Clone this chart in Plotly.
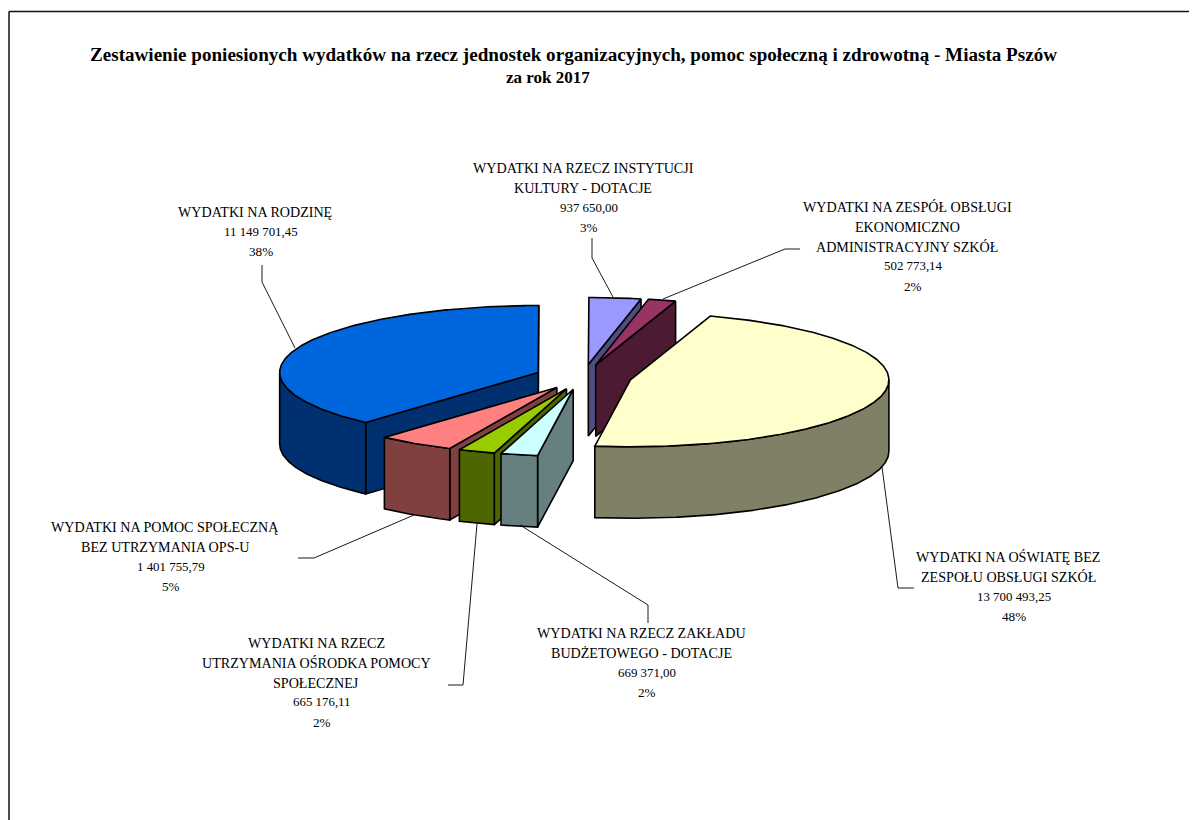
import numpy as np
import plotly.graph_objects as go

# ---- data ----
VALUES = [13700493.25, 669371.00, 665176.11, 1401755.79, 11149701.45, 937650.00, 502773.14]
VALUE_TEXT = ["13 700 493,25", "669 371,00", "665 176,11", "1 401 755,79",
              "11 149 701,45", "937 650,00", "502 773,14"]
PERCENT_TEXT = ["48%", "2%", "2%", "5%", "38%", "3%", "2%"]
NAMES = [
    ["WYDATKI NA OŚWIATĘ BEZ", "ZESPOŁU OBSŁUGI SZKÓŁ"],
    ["WYDATKI NA RZECZ ZAKŁADU", "BUDŻETOWEGO - DOTACJE"],
    ["WYDATKI NA RZECZ", "UTRZYMANIA OŚRODKA POMOCY", "SPOŁECZNEJ"],
    ["WYDATKI NA POMOC SPOŁECZNĄ", "BEZ UTRZYMANIA OPS-U"],
    ["WYDATKI NA RODZINĘ"],
    ["WYDATKI NA RZECZ INSTYTUCJI", "KULTURY - DOTACJE"],
    ["WYDATKI NA ZESPÓŁ OBSŁUGI", "EKONOMICZNO", "ADMINISTRACYJNY SZKÓŁ"],
]
TITLE_LINES = ["Zestawienie poniesionych wydatków na rzecz jednostek organizacyjnych, pomoc społeczną i zdrowotną - Miasta Pszów",
               "za rok 2017"]
TOP_COLORS = ["#FFFFCC", "#CCFFFF", "#99CC00", "#FF8080", "#0066DD", "#9999FF", "#993366"]
SIDE_COLORS = ["#808066", "#668080", "#4D6600", "#804040", "#003070", "#4D4D80", "#4D1A33"]

# ---- layout of the pseudo-3D pie (in page pixels) ----
CENTER = (583.3, 377.0)
RX, RY, DEPTH = 258.5, 67.0, 71.5
EXPLODE = 0.187
FIRST_ANGLE = 18.0
DRAW_ORDER = [4, 3, 2, 1, 5, 6, 0]

LABEL_POS = [(1008, 557), (641, 633), (316, 643), (165, 527), (255, 212), (583, 168), (907, 207)]
LINE_STEP = 19.8
LEADERS = [
    [(882, 467), (898, 588), (914, 588)],
    [(520, 525), (648, 605), (648, 623)],
    [(477, 524), (463, 685), (448, 685)],
    [(414, 515), (314, 558), (298, 558)],
    [(295, 348), (262, 282), (262, 265)],
    [(613, 297), (592, 258), (592, 238)],
    [(663, 299), (785, 249), (800, 249)],
]

FONT = "Liberation Serif"
LABEL_SIZE = 14.1
VALUE_SIZE = 12.9
PERCENT_SIZE = 13.2
VALUE_SHIFT = 6
TITLE_SIZE = 19.1
SUBTITLE_SIZE = 17

fig = go.Figure()


def poly(xs, ys, color):
    fig.add_trace(go.Scatter(x=xs, y=ys, mode="lines", fill="toself", fillcolor=color,
                             line=dict(color="black", width=1.6, shape="linear"),
                             hoverinfo="skip", showlegend=False))


def rim(cx, cy, a0, a1):
    t = np.radians(np.linspace(a0, a1, max(2, int(abs(a1 - a0)) * 2 + 2)))
    return cx + RX * np.sin(t), cy - RY * np.cos(t)


total = sum(VALUES)
spans = [v / total * 360 for v in VALUES]
starts = [FIRST_ANGLE + sum(spans[:i]) for i in range(len(spans))]

for i in DRAW_ORDER:
    a0, a1 = starts[i], starts[i] + spans[i]
    mid = np.radians((a0 + a1) / 2)
    cx = CENTER[0] + EXPLODE * RX * np.sin(mid)
    cy = CENTER[1] - EXPLODE * RY * np.cos(mid)
    # radial faces
    if np.sin(np.radians(a1)) > 0:
        px, py = rim(cx, cy, a1, a1)
        poly([cx, px[0], px[0], cx, cx], [cy, py[0], py[0] + DEPTH, cy + DEPTH, cy], SIDE_COLORS[i])
    if np.sin(np.radians(a0)) < 0:
        px, py = rim(cx, cy, a0, a0)
        poly([cx, px[0], px[0], cx, cx], [cy, py[0], py[0] + DEPTH, cy + DEPTH, cy], SIDE_COLORS[i])
    # outer wall: only the front half (90..270 degrees) is visible
    w0, w1 = max(a0, 90.0), min(a1, 270.0)
    if w1 > w0:
        wx, wy = rim(cx, cy, w0, w1)
        poly(np.r_[wx, wx[::-1], wx[0]], np.r_[wy, wy[::-1] + DEPTH, wy[0]], SIDE_COLORS[i])
    # top
    tx, ty = rim(cx, cy, a0, a1)
    poly(np.r_[cx, tx, cx], np.r_[cy, ty, cy], TOP_COLORS[i])

for path in LEADERS:
    xs, ys = zip(*path)
    fig.add_trace(go.Scatter(x=xs, y=ys, mode="lines", line=dict(color="black", width=0.9),
                             hoverinfo="skip", showlegend=False))

annotations = []


def text_line(x, y, text, size, bold=False):
    annotations.append(dict(x=x, y=y, xref="x", yref="y", text=f"<b>{text}</b>" if bold else text,
                            showarrow=False, xanchor="center", yanchor="middle",
                            font=dict(family=FONT, size=size, color="black")))


for i, (x, y) in enumerate(LABEL_POS):
    n = len(NAMES[i])
    for k, s in enumerate(NAMES[i]):
        text_line(x, y + k * LINE_STEP, s, LABEL_SIZE)
    text_line(x + VALUE_SHIFT, y + n * LINE_STEP, VALUE_TEXT[i], VALUE_SIZE)
    text_line(x + VALUE_SHIFT, y + (n + 1) * LINE_STEP, PERCENT_TEXT[i], PERCENT_SIZE)

text_line(573.5, 54, TITLE_LINES[0], TITLE_SIZE, True)
text_line(548, 77, TITLE_LINES[1], SUBTITLE_SIZE, True)

fig.update_layout(
    width=1189, height=812, margin=dict(l=0, r=0, t=0, b=0),
    paper_bgcolor="white", plot_bgcolor="white", showlegend=False,
    xaxis=dict(range=[8, 1197], visible=False, fixedrange=True),
    yaxis=dict(range=[820, 8], visible=False, fixedrange=True),
    annotations=annotations,
    shapes=[
        dict(type="line", xref="x", yref="y", x0=9, y0=11.5, x1=1197, y1=11.5, line=dict(color="#111", width=1.5)),
        dict(type="line", xref="x", yref="y", x0=9, y0=11.5, x1=9, y1=820, line=dict(color="#111", width=1.5)),
    ],
)
fig.write_html("out.html", config={"displayModeBar": False})
